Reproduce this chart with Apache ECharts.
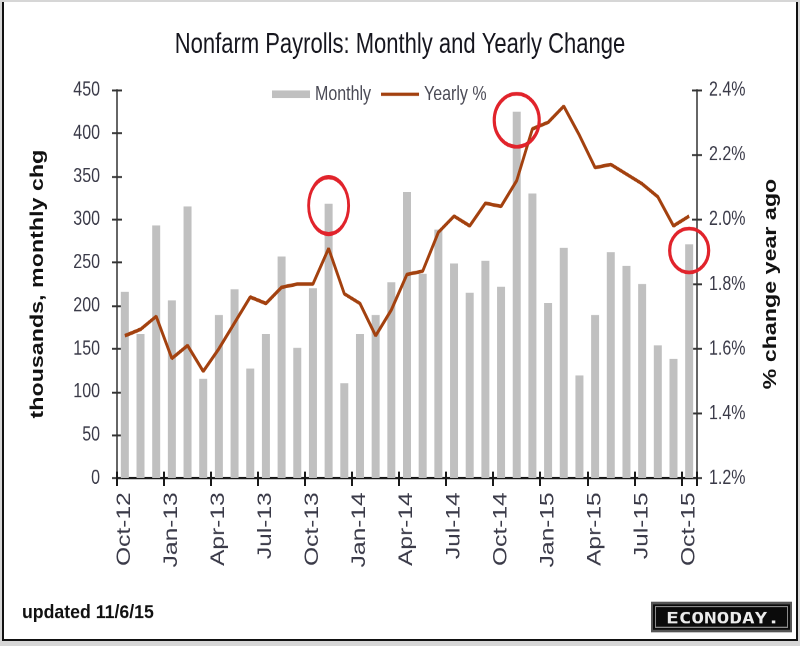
<!DOCTYPE html>
<html>
<head>
    <meta charset="utf-8">
    <title>Nonfarm Payrolls</title>
    <script src="https://cdn.jsdelivr.net/npm/echarts@6/dist/echarts.min.js"></script>
    <style>
        html, body { margin: 0; padding: 0; width: 800px; height: 646px; overflow: hidden; background: #d6d6d6; }
        #frame { position: absolute; left: 2px; top: 2px; width: 792px; height: 637px; background: #fff;
                 border-left: 2px solid #111; border-right: 2px solid #111; border-bottom: 2px solid #111; }
        /* the source picture is stretched vertically, so the chart is drawn flat and scaled */
        #chart1 { position: absolute; left: 0; top: 0; width: 800px; height: 500px;
                  transform: scaleY(1.292); transform-origin: 0 0; }
    </style>
</head>
<body>
<div id="frame"></div>
<div id="chart1"></div>
<script type="text/javascript">
    var months = ['Oct-12', 'Nov-12', 'Dec-12', 'Jan-13', 'Feb-13', 'Mar-13', 'Apr-13', 'May-13', 'Jun-13',
        'Jul-13', 'Aug-13', 'Sep-13', 'Oct-13', 'Nov-13', 'Dec-13', 'Jan-14', 'Feb-14', 'Mar-14', 'Apr-14',
        'May-14', 'Jun-14', 'Jul-14', 'Aug-14', 'Sep-14', 'Oct-14', 'Nov-14', 'Dec-14', 'Jan-15', 'Feb-15',
        'Mar-15', 'Apr-15', 'May-15', 'Jun-15', 'Jul-15', 'Aug-15', 'Sep-15', 'Oct-15'];
    // thousands, monthly change
    var monthly = [216, 167, 293, 206, 315, 115, 189, 219, 127, 167, 257, 151, 220, 318, 110, 167, 189, 227,
        332, 237, 288, 249, 215, 252, 222, 425, 330, 203, 267, 119, 189, 262, 246, 225, 154, 138, 271];
    // % change year ago
    var yearly = [1.64, 1.66, 1.70, 1.57, 1.61, 1.53, 1.60, 1.68, 1.76, 1.74, 1.79, 1.80, 1.80, 1.91, 1.77,
        1.74, 1.64, 1.72, 1.83, 1.84, 1.96, 2.01, 1.98, 2.05, 2.04, 2.12, 2.28, 2.30, 2.35, 2.26, 2.16, 2.17,
        2.14, 2.11, 2.07, 1.98, 2.01];
    // red circles drawn on the picture: [month, monthly value at centre]
    var circled = [['Nov-13', 316], ['Nov-14', 415], ['Oct-15', 264]];
    var circleSizes = [[40, 44], [45, 41], [39, 34]];

    var font = 'Liberation Sans, Arial, sans-serif';
    var labelColor = '#3a3a48';
    var ink = '#1a1a1a';
    var lineColor = '#a3410f';

    var myChart = echarts.init(document.getElementById('chart1'), null, {devicePixelRatio: 2});

    // ticks cross the axis line: one axis draws them outside, a twin draws them inside
    function tickAxisY(pos, min, max, interval, inside, showLabel, extra) {
        var ax = {
            type: 'value', position: pos, min: min, max: max, interval: interval,
            splitLine: {show: false},
            axisLine: {show: !inside, lineStyle: {color: '#333', width: 1.5}},
            axisTick: {show: true, inside: inside, length: 5, lineStyle: {color: '#333', width: 1.5}},
            axisLabel: {show: showLabel}
        };
        return Object.assign(ax, extra || {});
    }

    var option = {
        backgroundColor: 'transparent',
        animation: false,
        textStyle: {fontFamily: font},
        title: {
            text: 'Nonfarm Payrolls: Monthly and Yearly Change',
            left: 'center',
            top: 19,
            textStyle: {fontSize: 22, fontWeight: 'normal', color: '#16161e', fontFamily: font}
        },
        legend: {
            left: 267,
            top: 60,
            itemWidth: 38,
            itemHeight: 6,
            itemGap: 10,
            textStyle: {fontSize: 16, color: '#4a4a55', fontFamily: font},
            data: [
                {name: 'Monthly', icon: 'rect'},
                {name: 'Yearly %', icon: 'path://M0,0H38V2.6H0Z'}
            ]
        },
        grid: {left: 117, right: 103, top: 69.7, bottom: 130, containLabel: false, outerBoundsMode: 'none'},
        xAxis: [{
            type: 'category', data: months, position: 'bottom',
            axisLine: {lineStyle: {color: ink, width: 2}},
            axisTick: {show: true, interval: 2, length: 6, lineStyle: {color: ink, width: 2}},
            axisLabel: {interval: 2, rotate: 90, margin: 11, fontSize: 19, color: labelColor, fontFamily: font}
        }, {
            type: 'category', data: months, position: 'bottom',
            axisLine: {show: false},
            axisTick: {show: true, interval: 2, inside: true, length: 5, lineStyle: {color: ink, width: 2}},
            axisLabel: {show: false}
        }],
        yAxis: [
            tickAxisY('left', 0, 450, 50, false, true, {
                name: 'thousands, monthly chg', nameLocation: 'middle', nameGap: 70,
                nameTextStyle: {fontSize: 18, fontWeight: 'bold', color: '#111', fontFamily: font},
                axisLabel: {fontSize: 16, color: labelColor, margin: 17, fontFamily: font}
            }),
            tickAxisY('right', 1.2, 2.4, 0.2, false, true, {
                name: '% change year ago', nameLocation: 'middle', nameGap: 65,
                nameTextStyle: {fontSize: 18, fontWeight: 'bold', color: '#111', fontFamily: font},
                axisLabel: {
                    fontSize: 16, color: labelColor, margin: 12, fontFamily: font,
                    formatter: function (v) { return v.toFixed(1) + '%'; }
                }
            }),
            tickAxisY('left', 0, 450, 50, true, false),
            tickAxisY('right', 1.2, 2.4, 0.2, true, false)
        ],
        series: [{
            name: 'Monthly',
            type: 'bar',
            yAxisIndex: 0,
            barWidth: 8,
            itemStyle: {color: '#c0c0c0'},
            data: monthly,
            markPoint: {
                silent: true,
                symbol: 'path://M0,50A50,50,0,1,1,100,50A50,50,0,1,1,0,50Z',
                label: {show: false},
                itemStyle: {color: 'rgba(0,0,0,0)', borderColor: '#e1232b', borderWidth: 3},
                data: circled.map(function (c, i) {
                    return {coord: c, symbolSize: circleSizes[i]};
                })
            }
        }, {
            name: 'Yearly %',
            type: 'line',
            yAxisIndex: 1,
            symbol: 'none',
            lineStyle: {color: lineColor, width: 2.8},
            itemStyle: {color: lineColor},
            data: yearly
        }],
        graphic: [{
            type: 'text', x: 22, y: 474.5, scaleX: 1.18,
            style: {text: 'updated 11/6/15', fontSize: 15, fontWeight: 'bold', fontFamily: font,
                fill: '#111', verticalAlign: 'middle'}
        }, {
            type: 'rect', shape: {x: 652, y: 466.7, width: 139, height: 21.7},
            style: {fill: '#0b0b0b', stroke: '#555', lineWidth: 2}
        }, {
            type: 'rect', shape: {x: 655.5, y: 469.5, width: 132, height: 16},
            style: {fill: 'none', stroke: '#8a8a8a', lineWidth: 1}
        }, {
            type: 'text', x: 723, y: 479.3, scaleX: 1.75,
            style: {text: 'ECONODAY.', fontSize: 12, fontWeight: 'bold', fontFamily: '"DejaVu Sans Mono", monospace',
                fill: '#ececec', align: 'center', verticalAlign: 'middle'}
        }]
    };
    myChart.setOption(option);
</script>
</body>
</html>
